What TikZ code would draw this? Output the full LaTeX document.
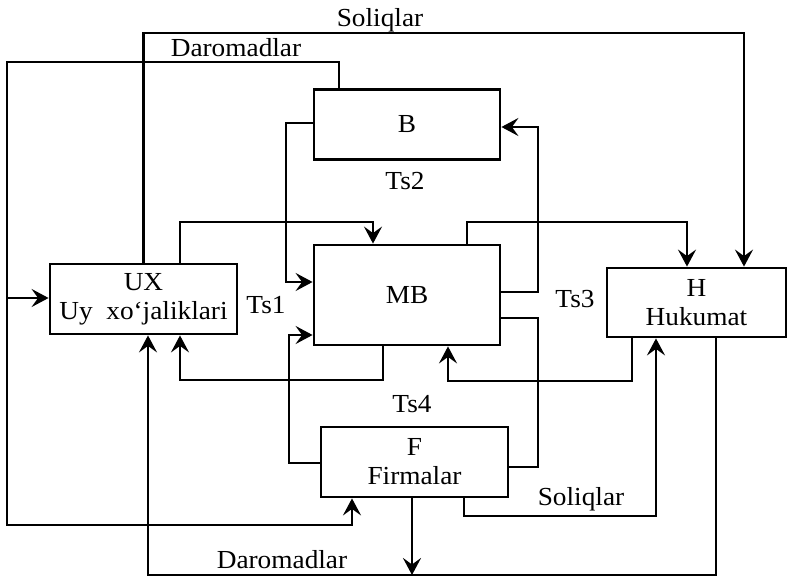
\documentclass[tikz,border=0pt]{standalone}
\usepackage{fontspec}
\setmainfont{Liberation Serif}[FakeStretch=1.05]
\usetikzlibrary{arrows.meta}
\begin{document}
\begin{tikzpicture}[x=1pt,y=-1pt,line width=2.8pt,
  box/.style={draw,rectangle,inner sep=0pt,align=center,font=\fontsize{26}{29}\selectfont},
  lbl/.style={inner sep=0pt,font=\fontsize{26}{29}\selectfont},
  arr/.style={-{Stealth[length=17pt,width=18pt,inset=6.5pt]}}]
\useasboundingbox (0,0) rectangle (788,578);
% boxes
\node[box,minimum width=186pt,minimum height=70pt] (B) at (407,124.5) {B};
\node[box,minimum width=186pt,minimum height=100pt] (MB) at (407,295) {MB};
\node[box,minimum width=187pt,minimum height=70pt] (UX) at (143.5,299) {UX\\Uy\ \ xo‘jaliklari};
\node[box,minimum width=179pt,minimum height=69pt] (H) at (696.5,302.5) {H\\Hukumat};
\node[box,minimum width=187pt,minimum height=70pt] (F) at (414.5,462) {F\\Firmalar};
% labels
\node[lbl] (l1) at (380,20) {Soliqlar};
\node[lbl] (l2) at (236,48) {Daromadlar};
\node[lbl] (l3) at (405,181) {Ts2};
\node[lbl] (l4) at (266,305) {Ts1};
\node[lbl] (l5) at (575,299) {Ts3};
\node[lbl] (l6) at (412,404) {Ts4};
\node[lbl] (l7) at (581,499) {Soliqlar};
\node[lbl] (l8) at (282,560) {Daromadlar};
% free end
\coordinate (fe) at (412,575);
% connectors
\draw[arr] (UX.north) |- (744,33) -- (H.north -| 744,0);
\draw[arr] (B.north -| 339,0) |- (7,62) |- (352,525) -- (F.south -| 352,0);
\draw[arr] (7,298) -- (UX.west |- 0,298);
\draw[arr] (B.west |- 0,123) -| (286,282) -- (MB.west |- 0,282);
\draw[arr] (MB.east |- 0,292) -| (538,127) -- (B.east |- 0,127);
\draw[arr] (UX.north -| 180,0) |- (373,222) -- (MB.north -| 373,0);
\draw[arr] (MB.south -| 383,0) |- (180,380) -- (UX.south -| 180,0);
\draw[arr] (MB.north -| 467,0) |- (687,222) -- (H.north -| 687,0);
\draw[arr] (H.south -| 632,0) |- (448,381) -- (MB.south -| 448,0);
\draw[arr] (F.west |- 0,463) -| (289,335) -- (MB.west |- 0,335);
\draw (MB.east |- 0,318) -| (538,467) -- (F.east |- 0,467);
\draw[arr] (F.south -| 464,0) |- (656,516) -- (H.south -| 656,0);
\draw[arr] (H.south -| 716,0) |- (148,575) -- (UX.south -| 148,0);
\draw[arr] (F.south -| fe) -- (fe);
\end{tikzpicture}
\end{document}
